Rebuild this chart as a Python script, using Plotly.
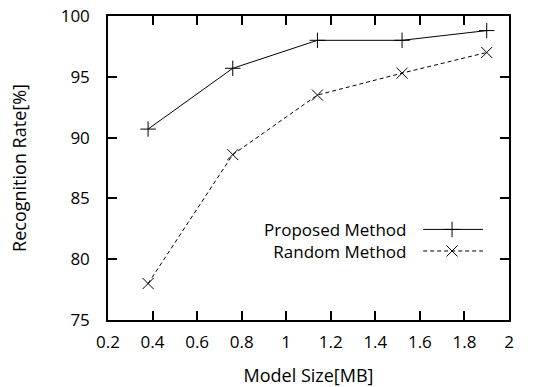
import plotly.graph_objects as go

model_size = [0.38, 0.76, 1.14, 1.52, 1.90]
proposed = [90.7, 95.7, 98.0, 98.0, 98.8]
random_m = [78.0, 88.6, 93.5, 95.3, 97.0]
series_names = ["Proposed Method", "Random Method"]
x_ticks = [0.2, 0.4, 0.6, 0.8, 1.0, 1.2, 1.4, 1.6, 1.8, 2.0]
x_tick_text = ["0.2", "0.4", "0.6", "0.8", "1", "1.2", "1.4", "1.6", "1.8", "2"]
y_ticks = [75, 80, 85, 90, 95, 100]

FONT = "Open Sans"
fig = go.Figure()
fig.add_trace(go.Scatter(x=model_size, y=proposed, mode="lines+markers",
                         line=dict(color="black", width=1),
                         marker=dict(symbol="cross-thin", size=11, line=dict(color="black", width=1)),
                         showlegend=False))
fig.add_trace(go.Scatter(x=model_size, y=random_m, mode="lines+markers",
                         line=dict(color="black", width=1, dash="4px,3px"),
                         marker=dict(symbol="x-thin", size=11, line=dict(color="black", width=1)),
                         showlegend=False))

# legend samples on an overlay axis (0..1)
leg_x = [0.786, 0.858, 0.935]
leg_y = [0.298, 0.227]
dashes = ["solid", "4px,3px"]
symbols = ["cross-thin", "x-thin"]
for yy, dd, sym in zip(leg_y, dashes, symbols):
    fig.add_trace(go.Scatter(x=leg_x, y=[yy] * 3, xaxis="x2", yaxis="y2",
                             mode="lines", line=dict(color="black", width=1, dash=dd),
                             showlegend=False, hoverinfo="skip"))
    fig.add_trace(go.Scatter(x=[leg_x[1]], y=[yy], xaxis="x2", yaxis="y2", mode="markers",
                             marker=dict(symbol=sym, size=11, line=dict(color="black", width=1)),
                             showlegend=False, hoverinfo="skip"))

fig.add_annotation(x=0.748, y=sum(leg_y) / 2, xref="x2", yref="y2", text="<br>".join(series_names),
                   showarrow=False, xanchor="right", yanchor="middle", align="right",
                   font=dict(family=FONT, size=17, color="black"))

axis_common = dict(showgrid=False, zeroline=False, showline=True, linecolor="black", linewidth=1.5,
                   mirror="ticks", ticks="inside", ticklen=9, tickwidth=1.5, tickcolor="black",
                   ticklabeloverflow="allow", automargin=False,
                   tickfont=dict(family=FONT, size=17, color="black"))
fig.update_layout(
    width=544, height=387, margin=dict(l=108, r=35, t=16, b=67),
    plot_bgcolor="white", paper_bgcolor="white",
    xaxis=dict(range=[0.2, 2.0], tickvals=x_ticks, ticktext=x_tick_text, ticklabelstandoff=6,
               title=dict(text="Model Size[MB]", font=dict(family=FONT, size=18, color="black"), standoff=18),
               **axis_common),
    yaxis=dict(range=[75, 100], tickvals=y_ticks, ticklabelstandoff=13,
               title=dict(text="Recognition Rate[%]", font=dict(family=FONT, size=18, color="black"), standoff=29),
               **axis_common),
    xaxis2=dict(range=[0, 1], overlaying="x", visible=False, fixedrange=True),
    yaxis2=dict(range=[0, 1], overlaying="y", visible=False, fixedrange=True),
)
fig.write_html("out.html", config={"displayModeBar": False},
               post_script="document.body.style.margin='0';document.body.style.overflow='hidden';")
